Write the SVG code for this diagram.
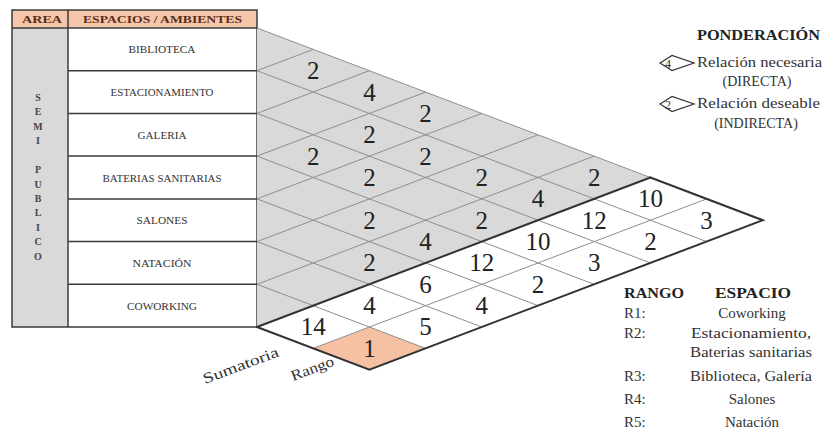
<svg xmlns="http://www.w3.org/2000/svg" width="822" height="439" viewBox="0 0 822 439">
<style>
text{font-family:"Liberation Serif","Times New Roman","DejaVu Serif",serif}
.tl{stroke:#3a3a3a;stroke-width:1.5;fill:none}
.g{stroke:#8e8e8e;stroke-width:1;fill:none}
.b{stroke:#333;stroke-width:2;fill:none;stroke-linecap:round}
.hd{font-weight:bold;font-size:11px;fill:#5b2c1a}
.rw{font-size:10px;fill:#333;text-anchor:middle}
.ar{font-weight:bold;font-size:10px;fill:#444;text-anchor:middle}
.n{font-size:25px;fill:#222;text-anchor:middle}
.lg{font-size:14px;fill:#333}
.lb{font-size:14px;font-weight:bold;fill:#222}
.rk{font-size:15px;fill:#333}
.ic{font-size:12px;fill:#333;text-anchor:middle}
</style>
<rect width="822" height="439" fill="#fff"/>

<g id="table">
<rect x="12" y="10" width="245" height="18" fill="#f5c6aa"/>
<rect x="12" y="28" width="56" height="299" fill="#d9d9d9"/>
<rect x="68" y="28" width="189" height="299" fill="#fff"/>
<rect x="12" y="10" width="245" height="317" class="tl"/>
<line x1="68" y1="10" x2="68" y2="327" class="tl"/>
<line x1="12" y1="28" x2="257" y2="28" class="tl"/>
<text x="22" y="23" class="hd" textLength="40" lengthAdjust="spacingAndGlyphs">AREA</text>
<text x="83" y="23" class="hd" textLength="159" lengthAdjust="spacingAndGlyphs">ESPACIOS / AMBIENTES</text>
<g id="area">
<text x="38" y="100.5" class="ar">S</text>
<text x="38" y="114.5" class="ar">E</text>
<text x="38" y="129.5" class="ar">M</text>
<text x="38" y="143.5" class="ar">I</text>
<text x="38" y="172.5" class="ar">P</text>
<text x="38" y="187.5" class="ar">U</text>
<text x="38" y="201.5" class="ar">B</text>
<text x="38" y="215.5" class="ar">L</text>
<text x="38" y="230.5" class="ar">I</text>
<text x="38" y="244.5" class="ar">C</text>
<text x="38" y="259.5" class="ar">O</text>
</g>
<g id="row-biblioteca"><text x="162" y="53" class="rw" textLength="67" lengthAdjust="spacingAndGlyphs">BIBLIOTECA</text></g>
<line x1="68" y1="70.7" x2="257" y2="70.7" class="tl"/>
<g id="row-estacionamiento"><text x="162" y="96" class="rw" textLength="103" lengthAdjust="spacingAndGlyphs">ESTACIONAMIENTO</text></g>
<line x1="68" y1="113.4" x2="257" y2="113.4" class="tl"/>
<g id="row-galeria"><text x="162" y="138.5" class="rw" textLength="49" lengthAdjust="spacingAndGlyphs">GALERIA</text></g>
<line x1="68" y1="156.1" x2="257" y2="156.1" class="tl"/>
<g id="row-baterias"><text x="162" y="181.5" class="rw" textLength="119" lengthAdjust="spacingAndGlyphs">BATERIAS SANITARIAS</text></g>
<line x1="68" y1="198.9" x2="257" y2="198.9" class="tl"/>
<g id="row-salones"><text x="162" y="224" class="rw" textLength="51" lengthAdjust="spacingAndGlyphs">SALONES</text></g>
<line x1="68" y1="241.6" x2="257" y2="241.6" class="tl"/>
<g id="row-natacion"><text x="162" y="267" class="rw" textLength="59" lengthAdjust="spacingAndGlyphs">NATACIÓN</text></g>
<line x1="68" y1="284.3" x2="257" y2="284.3" class="tl"/>
<g id="row-coworking"><text x="162" y="309.5" class="rw" textLength="70" lengthAdjust="spacingAndGlyphs">COWORKING</text></g>
</g>

<g id="matrix-fill">
<polygon points="257,28 650.4,177.5 257,327" fill="#d9d9d9"/>
<polygon points="257,327 650.4,177.5 762.8,220.2 369.4,369.7" fill="#fff"/>
<polygon points="313.2,348.4 369.4,369.7 425.6,348.4 369.4,327" fill="#f6c1a2"/>
</g>

<g id="connectors">
<line x1="257" y1="28" x2="650.4" y2="177.5" class="g"/>
<line x1="257" y1="70.7" x2="706.6" y2="241.6" class="g"/>
<line x1="257" y1="113.4" x2="650.4" y2="262.9" class="g"/>
<line x1="257" y1="156.1" x2="594.2" y2="284.3" class="g"/>
<line x1="257" y1="198.9" x2="538" y2="305.6" class="g"/>
<line x1="257" y1="241.6" x2="481.8" y2="327" class="g"/>
<line x1="257" y1="284.3" x2="425.6" y2="348.4" class="g"/>
<line x1="257" y1="70.7" x2="313.2" y2="49.4" class="g"/>
<line x1="257" y1="113.4" x2="369.4" y2="70.7" class="g"/>
<line x1="257" y1="156.1" x2="425.6" y2="92.1" class="g"/>
<line x1="257" y1="198.9" x2="481.8" y2="113.4" class="g"/>
<line x1="257" y1="241.6" x2="538" y2="134.8" class="g"/>
<line x1="257" y1="284.3" x2="594.2" y2="156.1" class="g"/>
<line x1="313.2" y1="348.4" x2="706.6" y2="198.9" class="g"/>
<line x1="257" y1="327" x2="650.4" y2="177.5" class="b"/>
<polyline points="650.4,177.5 762.8,220.2 369.4,369.7 257,327" class="b"/>
</g>

<g id="cells">
<text x="313.2" y="79" class="n">2</text>
<text x="369.4" y="100.5" class="n">4</text>
<text x="425.6" y="122" class="n">2</text>
<text x="369.4" y="143" class="n">2</text>
<text x="313.2" y="164.5" class="n">2</text>
<text x="425.6" y="164.5" class="n">2</text>
<text x="369.4" y="186" class="n">2</text>
<text x="481.8" y="186" class="n">2</text>
<text x="594.2" y="186" class="n">2</text>
<text x="538" y="207" class="n">4</text>
<text x="369.4" y="228.5" class="n">2</text>
<text x="481.8" y="228.5" class="n">2</text>
<text x="425.6" y="250" class="n">4</text>
<text x="369.4" y="271" class="n">2</text>
</g>
<g id="sums">
<text x="650.4" y="207" class="n">10</text>
<text x="594.2" y="228.5" class="n">12</text>
<text x="538" y="250" class="n">10</text>
<text x="481.8" y="271" class="n">12</text>
<text x="425.6" y="292.5" class="n">6</text>
<text x="369.4" y="313.5" class="n">4</text>
<text x="313.2" y="335" class="n">14</text>
</g>
<g id="ranks">
<text x="706.6" y="228.5" class="n">3</text>
<text x="650.4" y="250" class="n">2</text>
<text x="594.2" y="271" class="n">3</text>
<text x="538" y="292.5" class="n">2</text>
<text x="481.8" y="313.5" class="n">4</text>
<text x="425.6" y="335" class="n">5</text>
<text x="369.4" y="356.5" class="n" fill="#3a1f12">1</text>
</g>

<g id="axis-labels">
<text class="rk" transform="translate(205,384) rotate(-20.5)" textLength="80" lengthAdjust="spacingAndGlyphs">Sumatoria</text>
<text class="rk" transform="translate(293,381) rotate(-20.5)" textLength="45" lengthAdjust="spacingAndGlyphs">Rango</text>
</g>

<g id="legend-ponderacion">
<text x="697" y="40" class="lb" textLength="123" lengthAdjust="spacingAndGlyphs">PONDERACIÓN</text>
<polygon points="660,63 672,55.5 694,63 672,70.5" fill="#fff" stroke="#333" stroke-width="1.2"/>
<text x="668" y="67.5" class="ic">4</text>
<text x="697" y="67" class="lg" textLength="125" lengthAdjust="spacingAndGlyphs">Relación necesaria</text>
<text x="757" y="86" class="lg" text-anchor="middle">(DIRECTA)</text>
<polygon points="660,104 672,96.5 694,104 672,111.5" fill="#fff" stroke="#333" stroke-width="1.2"/>
<text x="668" y="108.5" class="ic">2</text>
<text x="697" y="108" class="lg" textLength="123" lengthAdjust="spacingAndGlyphs">Relación deseable</text>
<text x="756" y="128" class="lg" text-anchor="middle">(INDIRECTA)</text>
</g>

<g id="legend-rango">
<text x="624" y="298" class="lb" textLength="60" lengthAdjust="spacingAndGlyphs">RANGO</text>
<text x="715" y="298" class="lb" textLength="76" lengthAdjust="spacingAndGlyphs">ESPACIO</text>
<text x="624" y="318" class="rk">R1:</text>
<text x="752" y="318" class="rk" text-anchor="middle">Coworking</text>
<text x="624" y="338" class="rk">R2:</text>
<text x="751" y="338" class="rk" text-anchor="middle" textLength="120" lengthAdjust="spacingAndGlyphs">Estacionamiento,</text>
<text x="751" y="357" class="rk" text-anchor="middle" textLength="122" lengthAdjust="spacingAndGlyphs">Baterias sanitarias</text>
<text x="624" y="381" class="rk">R3:</text>
<text x="751" y="381" class="rk" text-anchor="middle" textLength="122" lengthAdjust="spacingAndGlyphs">Biblioteca, Galería</text>
<text x="624" y="404" class="rk">R4:</text>
<text x="752" y="404" class="rk" text-anchor="middle">Salones</text>
<text x="624" y="427" class="rk">R5:</text>
<text x="752" y="427" class="rk" text-anchor="middle">Natación</text>
</g>
</svg>
